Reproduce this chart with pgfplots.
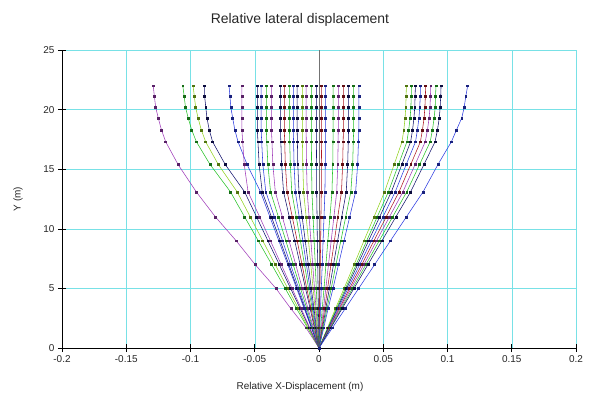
\documentclass[border=0pt]{standalone}
\usepackage{fontspec}
\setmainfont{Liberation Sans}
\usepackage{pgfplots}
\pgfplotsset{compat=1.18}
\definecolor{vio}{RGB}{160,60,185}
\definecolor{grn}{RGB}{40,195,40}
\definecolor{lim}{RGB}{145,210,30}
\definecolor{nav}{RGB}{20,20,110}
\definecolor{blu}{RGB}{45,60,225}
\definecolor{rd}{RGB}{175,25,35}
\definecolor{gridc}{RGB}{120,225,230}
\pgfplotsset{ln/.style={line width=0.55pt, color=#1, mark=square*, mark size=0.95pt, mark options={solid, fill=#1!55!black, draw=#1!55!black}}}
\begin{document}
\begin{tikzpicture}
\useasboundingbox (-62bp,-50bp) rectangle (530bp,348bp);
\begin{axis}[
  at={(0,0)}, anchor=south west,
  scale only axis, width=514bp, height=298bp,
  xmin=-0.2, xmax=0.2, ymin=0, ymax=25,
  xtick={-0.2,-0.15,-0.1,-0.05,0,0.05,0.1,0.15,0.2},
  ytick={0,5,10,15,20,25},
  axis x line=bottom, axis y line=left, axis line style={-, black, line width=0.7pt},
  grid=major, major grid style={gridc, line width=0.5pt},
  tick align=center, major tick length=8bp, tick style={black, line width=0.6pt},
  /pgf/number format/assume math mode=true,
  xticklabel={\pgfmathprintnumber[fixed, precision=2]{\tick}},
  ticklabel style={font=\fontsize{10}{12}\selectfont, text=black!85},
  title={Relative lateral displacement},
  title style={at={(axis description cs:0.463,1.07)}, anchor=base, font=\fontsize{14}{16}\selectfont, text=black!85},
  xlabel={Relative X-Displacement (m)},
  xlabel style={at={(axis description cs:0.463,-0.1376)}, anchor=base, font=\fontsize{10}{12}\selectfont, text=black!85},
  ylabel={Y (m)},
  ylabel style={at={(axis description cs:-0.0856,0.5)}, anchor=center, font=\fontsize{10}{12}\selectfont, text=black!85},
]
\addplot[black!55, line width=0.6pt, forget plot] coordinates {(0,0) (0,25)};
% left outer lines
\addplot[ln=vio] coordinates {(0,0) (-0.0101,1.7) (-0.0219,3.3) (-0.0335,5) (-0.0497,7) (-0.0645,9) (-0.0806,11) (-0.0955,13.1) (-0.1097,15.4) (-0.1193,17.3) (-0.1226,18.3) (-0.1251,19.3) (-0.1271,20.2) (-0.1281,21.1) (-0.129,22)};
\addplot[ln=grn] coordinates {(0,0) (-0.0089,1.7) (-0.0174,3.3) (-0.0263,5) (-0.0368,7) (-0.0473,9) (-0.0579,11) (-0.0689,13.1) (-0.0848,15.4) (-0.0954,17.3) (-0.0991,18.3) (-0.1018,19.3) (-0.1039,20.2) (-0.1049,21.1) (-0.106,22)};
\addplot[ln=lim] coordinates {(0,0) (-0.0083,1.7) (-0.0160,3.3) (-0.0243,5) (-0.0341,7) (-0.0438,9) (-0.0535,11) (-0.0637,13.1) (-0.0784,15.4) (-0.0882,17.3) (-0.0916,18.3) (-0.0941,19.3) (-0.0960,20.2) (-0.0970,21.1) (-0.098,22)};
\addplot[ln=nav] coordinates {(0,0) (-0.0075,1.7) (-0.0146,3.3) (-0.0221,5) (-0.0309,7) (-0.0398,9) (-0.0486,11) (-0.0579,13.1) (-0.0730,15.4) (-0.0828,17.3) (-0.0854,18.3) (-0.0872,19.3) (-0.0881,20.2) (-0.0890,21.1) (-0.089,22)};
\addplot[ln=blu] coordinates {(0,0) (-0.0059,1.7) (-0.0115,3.3) (-0.0174,5) (-0.0243,7) (-0.0313,9) (-0.0382,11) (-0.0455,13.1) (-0.0560,15.4) (-0.0630,17.3) (-0.0655,18.3) (-0.0672,19.3) (-0.0686,20.2) (-0.0693,21.1) (-0.070,22)};
\addplot[ln=vio] coordinates {(0,0) (-0.0072,1.7) (-0.0138,3.3) (-0.0210,5) (-0.0294,7) (-0.0378,9) (-0.0462,11) (-0.0552,13.1) (-0.0582,15.4) (-0.0594,17.3) (-0.060,18.3) (-0.060,19.3) (-0.060,20.2) (-0.060,21.1) (-0.060,22)};
% centre lines
\addplot[ln=nav] coordinates {(0,0) (-0.0058,1.7) (-0.0110,3.3) (-0.0168,5) (-0.0235,7) (-0.0302,9) (-0.0370,11) (-0.0442,13.1) (-0.0466,15.4) (-0.0475,17.3) (-0.048,18.3) (-0.048,19.3) (-0.048,20.2) (-0.048,21.1) (-0.048,22)};
\addplot[ln=blu] coordinates {(0,0) (-0.0054,1.7) (-0.0104,3.3) (-0.0158,5) (-0.0221,7) (-0.0284,9) (-0.0347,11) (-0.0414,13.1) (-0.0437,15.4) (-0.0446,17.3) (-0.045,18.3) (-0.045,19.3) (-0.045,20.2) (-0.045,21.1) (-0.045,22)};
\addplot[ln=grn] coordinates {(0,0) (-0.0049,1.7) (-0.0094,3.3) (-0.0144,5) (-0.0201,7) (-0.0258,9) (-0.0316,11) (-0.0377,13.1) (-0.0398,15.4) (-0.0406,17.3) (-0.041,18.3) (-0.041,19.3) (-0.041,20.2) (-0.041,21.1) (-0.041,22)};
\addplot[ln=vio] coordinates {(0,0) (-0.0044,1.7) (-0.0085,3.3) (-0.0130,5) (-0.0181,7) (-0.0233,9) (-0.0285,11) (-0.0340,13.1) (-0.0359,15.4) (-0.0366,17.3) (-0.037,18.3) (-0.037,19.3) (-0.037,20.2) (-0.037,21.1) (-0.037,22)};
\addplot[ln=nav] coordinates {(0,0) (-0.0036,1.7) (-0.0069,3.3) (-0.0105,5) (-0.0147,7) (-0.0189,9) (-0.0231,11) (-0.0276,13.1) (-0.0291,15.4) (-0.0297,17.3) (-0.030,18.3) (-0.030,19.3) (-0.030,20.2) (-0.030,21.1) (-0.030,22)};
\addplot[ln=rd] coordinates {(0,0) (-0.0032,1.7) (-0.0062,3.3) (-0.0095,5) (-0.0132,7) (-0.0170,9) (-0.0208,11) (-0.0248,13.1) (-0.0262,15.4) (-0.0267,17.3) (-0.027,18.3) (-0.027,19.3) (-0.027,20.2) (-0.027,21.1) (-0.027,22)};
\addplot[ln=grn] coordinates {(0,0) (-0.0028,1.7) (-0.0053,3.3) (-0.0081,5) (-0.0113,7) (-0.0145,9) (-0.0177,11) (-0.0212,13.1) (-0.0223,15.4) (-0.0228,17.3) (-0.023,18.3) (-0.023,19.3) (-0.023,20.2) (-0.023,21.1) (-0.023,22)};
\addplot[ln=blu] coordinates {(0,0) (-0.0024,1.7) (-0.0046,3.3) (-0.0070,5) (-0.0098,7) (-0.0126,9) (-0.0154,11) (-0.0184,13.1) (-0.0194,15.4) (-0.0198,17.3) (-0.020,18.3) (-0.020,19.3) (-0.020,20.2) (-0.020,21.1) (-0.020,22)};
\addplot[ln=nav] coordinates {(0,0) (-0.0020,1.7) (-0.0039,3.3) (-0.0060,5) (-0.0083,7) (-0.0107,9) (-0.0131,11) (-0.0156,13.1) (-0.0165,15.4) (-0.0168,17.3) (-0.017,18.3) (-0.017,19.3) (-0.017,20.2) (-0.017,21.1) (-0.017,22)};
\addplot[ln=lim] coordinates {(0,0) (-0.0016,1.7) (-0.0030,3.3) (-0.0046,5) (-0.0064,7) (-0.0082,9) (-0.0100,11) (-0.0120,13.1) (-0.0126,15.4) (-0.0129,17.3) (-0.013,18.3) (-0.013,19.3) (-0.013,20.2) (-0.013,21.1) (-0.013,22)};
\addplot[ln=vio] coordinates {(0,0) (-0.0012,1.7) (-0.0023,3.3) (-0.0035,5) (-0.0049,7) (-0.0063,9) (-0.0077,11) (-0.0092,13.1) (-0.0097,15.4) (-0.0099,17.3) (-0.010,18.3) (-0.010,19.3) (-0.010,20.2) (-0.010,21.1) (-0.010,22)};
\addplot[ln=grn] coordinates {(0,0) (-0.0007,1.7) (-0.0014,3.3) (-0.0021,5) (-0.0029,7) (-0.0038,9) (-0.0046,11) (-0.0055,13.1) (-0.0058,15.4) (-0.0059,17.3) (-0.006,18.3) (-0.006,19.3) (-0.006,20.2) (-0.006,21.1) (-0.006,22)};
\addplot[ln=nav] coordinates {(0,0) (-0.0002,1.7) (-0.0005,3.3) (-0.0007,5) (-0.0010,7) (-0.0013,9) (-0.0015,11) (-0.0018,13.1) (-0.0019,15.4) (-0.0020,17.3) (-0.002,18.3) (-0.002,19.3) (-0.002,20.2) (-0.002,21.1) (-0.002,22)};
\addplot[ln=rd] coordinates {(0,0) (0.0002,1.7) (0.0005,3.3) (0.0007,5) (0.0010,7) (0.0013,9) (0.0015,11) (0.0018,13.1) (0.0019,15.4) (0.0020,17.3) (0.002,18.3) (0.002,19.3) (0.002,20.2) (0.002,21.1) (0.002,22)};
\addplot[ln=blu] coordinates {(0,0) (0.0006,1.7) (0.0012,3.3) (0.0018,5) (0.0025,7) (0.0032,9) (0.0039,11) (0.0046,13.1) (0.0049,15.4) (0.0050,17.3) (0.005,18.3) (0.005,19.3) (0.005,20.2) (0.005,21.1) (0.005,22)};
\addplot[ln=grn] coordinates {(0,0) (0.0013,1.7) (0.0025,3.3) (0.0039,5) (0.0054,7) (0.0069,9) (0.0085,11) (0.0101,13.1) (0.0107,15.4) (0.0109,17.3) (0.011,18.3) (0.011,19.3) (0.011,20.2) (0.011,21.1) (0.011,22)};
\addplot[ln=vio] coordinates {(0,0) (0.0018,1.7) (0.0035,3.3) (0.0053,5) (0.0074,7) (0.0095,9) (0.0116,11) (0.0138,13.1) (0.0146,15.4) (0.0149,17.3) (0.015,18.3) (0.015,19.3) (0.015,20.2) (0.015,21.1) (0.015,22)};
\addplot[ln=rd] coordinates {(0,0) (0.0023,1.7) (0.0044,3.3) (0.0067,5) (0.0093,7) (0.0120,9) (0.0146,11) (0.0175,13.1) (0.0184,15.4) (0.0188,17.3) (0.019,18.3) (0.019,19.3) (0.019,20.2) (0.019,21.1) (0.019,22)};
\addplot[ln=nav] coordinates {(0,0) (0.0028,1.7) (0.0053,3.3) (0.0081,5) (0.0113,7) (0.0145,9) (0.0177,11) (0.0212,13.1) (0.0223,15.4) (0.0228,17.3) (0.023,18.3) (0.023,19.3) (0.023,20.2) (0.023,21.1) (0.023,22)};
\addplot[ln=grn] coordinates {(0,0) (0.0032,1.7) (0.0062,3.3) (0.0095,5) (0.0132,7) (0.0170,9) (0.0208,11) (0.0248,13.1) (0.0262,15.4) (0.0267,17.3) (0.027,18.3) (0.027,19.3) (0.027,20.2) (0.027,21.1) (0.027,22)};
\addplot[ln=blu] coordinates {(0,0) (0.0037,1.7) (0.0071,3.3) (0.0109,5) (0.0152,7) (0.0195,9) (0.0239,11) (0.0285,13.1) (0.0301,15.4) (0.0307,17.3) (0.031,18.3) (0.031,19.3) (0.031,20.2) (0.031,21.1) (0.031,22)};
% right cluster
\addplot[ln=lim] coordinates {(0,0) (0.0066,1.7) (0.0128,3.3) (0.0195,5) (0.0273,7) (0.0350,9) (0.0428,11) (0.0510,13.1) (0.0585,15.4) (0.0646,17.3) (0.0660,18.3) (0.0670,19.3) (0.0675,20.2) (0.0678,21.1) (0.068,22)};
\addplot[ln=grn] coordinates {(0,0) (0.0070,1.7) (0.0136,3.3) (0.0206,5) (0.0289,7) (0.0371,9) (0.0453,11) (0.0540,13.1) (0.0619,15.4) (0.0684,17.3) (0.0698,18.3) (0.0709,19.3) (0.0715,20.2) (0.0718,21.1) (0.072,22)};
\addplot[ln=nav] coordinates {(0,0) (0.0073,1.7) (0.0142,3.3) (0.0215,5) (0.0301,7) (0.0386,9) (0.0472,11) (0.0563,13.1) (0.0645,15.4) (0.0713,17.3) (0.0728,18.3) (0.0739,19.3) (0.0745,20.2) (0.0748,21.1) (0.075,22)};
\addplot[ln=blu] coordinates {(0,0) (0.0077,1.7) (0.0149,3.3) (0.0226,5) (0.0317,7) (0.0407,9) (0.0498,11) (0.0593,13.1) (0.0679,15.4) (0.0751,17.3) (0.0766,18.3) (0.0778,19.3) (0.0784,20.2) (0.0788,21.1) (0.079,22)};
\addplot[ln=rd] coordinates {(0,0) (0.0081,1.7) (0.0157,3.3) (0.0238,5) (0.0333,7) (0.0428,9) (0.0523,11) (0.0623,13.1) (0.0714,15.4) (0.0789,17.3) (0.0805,18.3) (0.0818,19.3) (0.0824,20.2) (0.0828,21.1) (0.083,22)};
\addplot[ln=vio] coordinates {(0,0) (0.0085,1.7) (0.0164,3.3) (0.0249,5) (0.0349,7) (0.0448,9) (0.0548,11) (0.0653,13.1) (0.0748,15.4) (0.0827,17.3) (0.0844,18.3) (0.0857,19.3) (0.0864,20.2) (0.0867,21.1) (0.087,22)};
\addplot[ln=grn] coordinates {(0,0) (0.0089,1.7) (0.0172,3.3) (0.0261,5) (0.0365,7) (0.0469,9) (0.0573,11) (0.0683,13.1) (0.0783,15.4) (0.0865,17.3) (0.0883,18.3) (0.0896,19.3) (0.0904,20.2) (0.0907,21.1) (0.091,22)};
\addplot[ln=nav] coordinates {(0,0) (0.0093,1.7) (0.0179,3.3) (0.0272,5) (0.0381,7) (0.0490,9) (0.0598,11) (0.0713,13.1) (0.0817,15.4) (0.0903,17.3) (0.0922,18.3) (0.0936,19.3) (0.0943,20.2) (0.0947,21.1) (0.095,22)};
% rightmost line
\addplot[ln=blu] coordinates {(0,0) (0.0105,1.7) (0.0204,3.3) (0.0309,5) (0.0433,7) (0.0556,9) (0.0680,11) (0.0810,13.1) (0.0926,15.4) (0.1030,17.3) (0.1070,18.3) (0.1111,19.3) (0.1130,20.2) (0.1142,21.1) (0.1157,22)};
\end{axis}
\end{tikzpicture}
\end{document}
